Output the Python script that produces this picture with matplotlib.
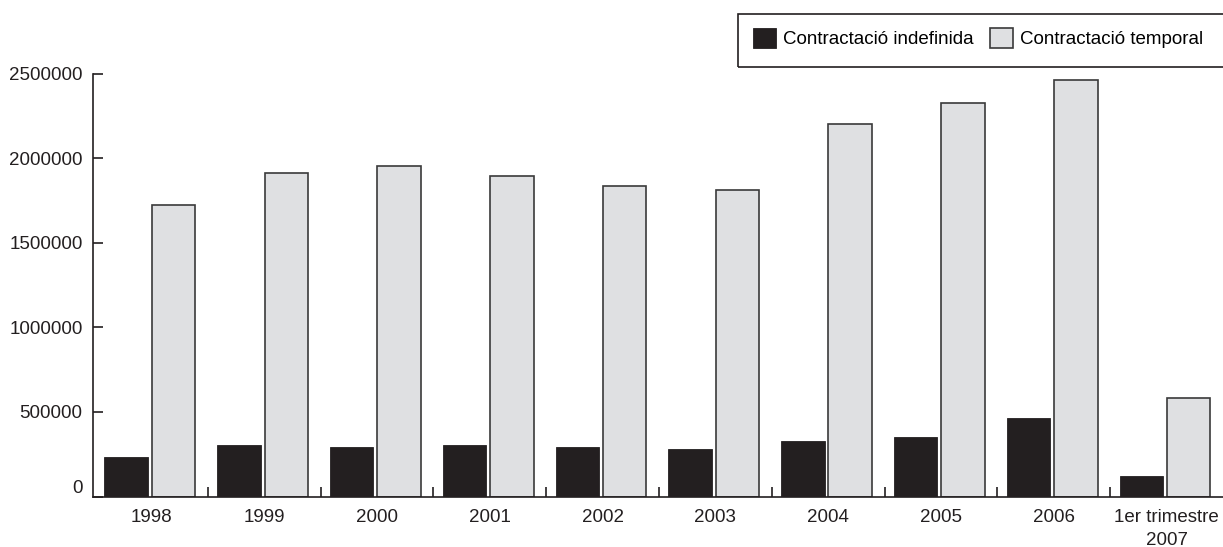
import matplotlib
matplotlib.use("Agg")
import matplotlib.pyplot as plt
import matplotlib.transforms as mtransforms
from matplotlib.patches import Rectangle
import numpy as np

categories = ["1998", "1999", "2000", "2001", "2002", "2003", "2004", "2005", "2006", "1er trimestre\n2007"]
indefinida = [235000, 305000, 290000, 305000, 295000, 282000, 327000, 350000, 466000, 120000]
temporal = [1724000, 1913000, 1955000, 1892000, 1838000, 1811000, 2201000, 2325000, 2463000, 583000]
yticks = [0, 500000, 1000000, 1500000, 2000000, 2500000]
series_names = ["Contractació indefinida", "Contractació temporal"]

plt.rcParams['font.family'] = ['Liberation Sans', 'DejaVu Sans']
FS = 13.5
plt.rcParams['font.size'] = FS

W, H = 1223, 547
fig = plt.figure(figsize=(W / 100, H / 100), dpi=100)
ax = fig.add_axes([93 / W, 1 - 496.5 / H, (W - 93) / W, (496.5 - 73.6) / H])

x = np.arange(len(categories))
bw = 0.385
b1 = ax.bar(x - 0.225, indefinida, bw, color="#231f20", edgecolor="#231f20", linewidth=0.6,
            label=series_names[0])
b2 = ax.bar(x + 0.195, temporal, bw, color="#dfe0e2", edgecolor="#3a3a3a", linewidth=1.2,
            label=series_names[1])

ax.set_xlim(-0.518, len(categories) - 0.5)
ax.set_ylim(0, 2500000)
ax.spines['top'].set_visible(False)
ax.spines['right'].set_visible(False)
for s in ['left', 'bottom']:
    ax.spines[s].set_linewidth(1.2)
    ax.spines[s].set_color("#231f20")

ax.set_yticks(yticks)
ax.set_yticklabels([str(v) for v in yticks])
ax.tick_params(axis='y', direction='in', length=7.2, width=1.2, pad=7.5, colors="#231f20",
               labelcolor="#231f20")
# the "0" label sits slightly above its tick in the reference
zero_lbl = ax.get_yticklabels()[0]
zero_lbl.set_transform(zero_lbl.get_transform() +
                       mtransforms.ScaledTranslation(0, 10 / 100, fig.dpi_scale_trans))

# boundaries as major ticks, labels as minor ticks
ax.set_xticks(np.arange(0.5, len(categories) - 0.5, 1.0))
ax.set_xticklabels([])
ax.tick_params(axis='x', which='major', direction='in', length=7.2, width=1.2, colors="#231f20")
ax.set_xticks(x, minor=True)
ax.set_xticklabels(categories, minor=True, linespacing=1.45)
ax.tick_params(axis='x', which='minor', length=0, pad=9, labelcolor="#231f20")

# legend frame extending past right edge
fig.patches.append(Rectangle((738 / W, 1 - 67 / H), (W + 20 - 738) / W, (67 - 14) / H,
                             transform=fig.transFigure, fill=False, edgecolor="#231f20",
                             linewidth=1.2))
fig.legend(handles=[b1, b2], loc='upper left', bbox_to_anchor=(753 / W, 1 - 28 / H),
           ncol=2, frameon=False, borderpad=0, borderaxespad=0,
           handlelength=1.22, handleheight=1.25, handletextpad=0.4, columnspacing=0.85,
           fontsize=FS)

fig.savefig("out.png", dpi=100)
